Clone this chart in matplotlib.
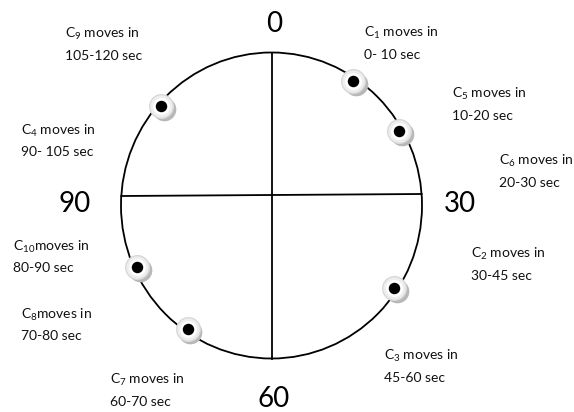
import numpy as np
import matplotlib
matplotlib.use("Agg")
import matplotlib.pyplot as plt
from matplotlib.patches import Ellipse

plt.rcParams['font.family'] = ['Lato', 'DejaVu Sans']
plt.rcParams['mathtext.fontset'] = 'custom'
plt.rcParams['mathtext.rm'] = 'Lato'
plt.rcParams['mathtext.it'] = 'Lato'

# ---- data ----
cycle_seconds = 120
axis_labels = ["0", "30", "60", "90"]
axis_seconds = [0, 30, 60, 90]

node_names = ["C1", "C5", "C6", "C2", "C3", "C7", "C8", "C10", "C4", "C9"]
node_subs = ["1", "5", "6", "2", "3", "7", "8", "10", "4", "9"]
node_intervals = ["0- 10 sec", "10-20 sec", "20-30 sec", "30-45 sec", "45-60 sec",
                  "60-70 sec", "70-80 sec", "80-90 sec", "90- 105 sec", "105-120 sec"]
node_space = [True, True, True, True, True, True, False, False, True, True]

# positions (in seconds along the cycle) of the drawn nodes
marker_seconds = [11.2, 20.0, 41.2, 71.5, 81.9, 103.9]

# ---- layout (pixel coordinates) ----
W, H = 574, 412
cx, cy, rx, ry = 271.5, 205.5, 150.5, 153.0
hline_y = 195.0
label_pos = [(364, 33), (452, 94), (499, 161), (471, 254), (384, 356),
             (110, 380), (21, 315), (13, 247), (21, 131), (65, 34)]
axis_label_pos = [(274, 24), (460, 204), (274, 399), (75, 204)]
line_gap = 21.5

fig = plt.figure(figsize=(W / 100, H / 100), dpi=100)
ax = fig.add_axes([0, 0, 1, 1])
ax.set_xlim(0, W)
ax.set_ylim(H, 0)
ax.axis('off')

lw = 1.3
ax.add_patch(Ellipse((cx, cy), 2 * rx, 2 * ry, fill=False, lw=lw, ec='black', zorder=2))
# quadrant lines
ax.plot([cx, cx], [cy - ry, cy + ry], color='black', lw=lw, zorder=2)
dy = hline_y - cy
half = rx * np.sqrt(1 - (dy / ry) ** 2)
ax.plot([cx - half, cx + half], [hline_y + 1, hline_y - 1], color='black', lw=lw, zorder=2)

# markers
theta = np.deg2rad(np.array(marker_seconds) / cycle_seconds * 360.0)
rf = 0.98
mx = cx + rf * rx * np.sin(theta)
my = cy - rf * ry * np.cos(theta)
ax.scatter(mx + 2.5, my + 3.0, s=290, color='#b8b8b8', zorder=3, lw=0)
ax.scatter(mx, my, s=290, color='#eeeeee', edgecolors='#d8d8d8', lw=1.0, zorder=4)
ax.scatter(mx, my, s=150, color='#ffffff', lw=0, zorder=4)
ax.scatter(mx, my, s=68, color='black', lw=0, zorder=5)

# node labels
for sub, itv, sp, (lx, ly) in zip(node_subs, node_intervals, node_space, label_pos):
    first = "C$_{\\mathrm{%s}}$%smoves in" % (sub, " " if sp else "")
    ax.text(lx, ly, first, fontsize=10, ha='left', va='center', color='#111111')
    ax.text(lx, ly + line_gap, itv, fontsize=10, ha='left', va='center', color='#111111')

for lab, (lx, ly) in zip(axis_labels, axis_label_pos):
    ax.text(lx, ly, lab, fontsize=20, ha='center', va='center', color='black')

fig.savefig("out.png", dpi=100)
